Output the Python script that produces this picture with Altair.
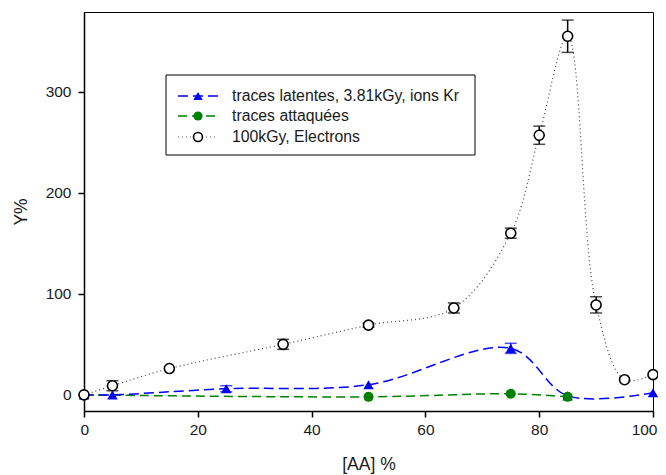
import altair as alt
import pandas as pd

# ---- data ----
elec_x = [0, 5, 15, 35, 50, 65, 75, 80, 85, 90, 95, 100]
elec_y = [0, 9, 26, 50, 69, 86, 160, 257, 355, 89, 15, 20]
elec_err = [0, 5, 0, 5, 2, 5, 5, 9, 16, 8, 0, 0]

kr_x = [0, 5, 25, 50, 75, 85, 100]
kr_y = [0, 0, 6, 10, 46, -1, 2]
kr_err = [0, 0, 3, 0, 5, 0, 0]

att_x = [0, 50, 75, 85]
att_y = [0, -2, 1, -2]

legend_labels = ["traces latentes, 3.81kGy, ions Kr", "traces attaquées", "100kGy, Electrons"]
x_ticks = [0, 20, 40, 60, 80, 100]
y_ticks = [0, 100, 200, 300]

FONT = "Liberation Sans"
BLUE = "#0000ff"
GREEN = "#008000"
BLACK = "#000000"
TXT = "#1a1a1a"

elec = pd.DataFrame({"x": elec_x, "y": elec_y, "err": elec_err})
kr = pd.DataFrame({"x": kr_x, "y": kr_y, "err": kr_err})
att = pd.DataFrame({"x": att_x, "y": att_y})

elec_e = elec[elec.err > 0].assign(lo=lambda d: d.y - d.err, hi=lambda d: d.y + d.err)
kr_e = kr[kr.err > 0].assign(lo=lambda d: d.y - d.err, hi=lambda d: d.y + d.err)

xs = alt.Scale(domain=[0, 100], nice=False, zero=False)
ys = alt.Scale(domain=[-16, 379], nice=False, zero=False)

X = alt.X("x:Q", scale=xs, title="[AA] %",
          axis=alt.Axis(values=x_ticks, titlePadding=18, labelPadding=5,
                        labelFlush=True, labelFlushOffset=4))
Y = alt.Y("y:Q", scale=ys, title="Y%",
          axis=alt.Axis(values=y_ticks, titlePadding=15, labelPadding=7, labelFlush=False))

interp = "catmull-rom"

att_line = alt.Chart(att).mark_line(color=GREEN, strokeWidth=1.5, strokeDash=[9, 5],
                                    interpolate=interp).encode(x=X, y=Y)
kr_line = alt.Chart(kr).mark_line(color=BLUE, strokeWidth=1.5, strokeDash=[10, 5],
                                  interpolate=interp).encode(x=X, y=Y)
elec_line = alt.Chart(elec).mark_line(color="#444444", strokeWidth=1.2, strokeDash=[1, 3],
                                      interpolate=interp).encode(x=X, y=Y)


def errbars(df, color):
    rule = alt.Chart(df).mark_rule(color=color, strokeWidth=1.5).encode(
        x=alt.X("x:Q", scale=xs), y=alt.Y("lo:Q", scale=ys), y2="hi:Q")
    lo = alt.Chart(df).mark_tick(color=color, orient="horizontal", size=12, thickness=1.5).encode(
        x=alt.X("x:Q", scale=xs), y=alt.Y("lo:Q", scale=ys))
    hi = alt.Chart(df).mark_tick(color=color, orient="horizontal", size=12, thickness=1.5).encode(
        x=alt.X("x:Q", scale=xs), y=alt.Y("hi:Q", scale=ys))
    return rule + lo + hi


att_pts = alt.Chart(att[att.x > 0]).mark_point(shape="circle", filled=True, color=GREEN,
                                               size=100, opacity=1).encode(x=X, y=Y)
kr_pts = alt.Chart(kr).mark_point(shape="triangle-up", filled=True, color=BLUE,
                                  size=110, opacity=1).encode(x=X, y=Y)
elec_pts = alt.Chart(elec).mark_point(shape="circle", filled=True, fill="white", stroke=BLACK,
                                      strokeWidth=1.6, size=100, opacity=1).encode(x=X, y=Y)

# ---- legend (drawn as a boxed key) ----
one = pd.DataFrame({"k": [0]})
box = alt.Chart(one).mark_rect(fill="white", stroke=BLACK, strokeWidth=1).encode(
    x=alt.value(82), x2=alt.value(391), y=alt.value(63), y2=alt.value(143))
rows_y = [84, 104, 125]
styles = [(BLUE, [10, 5], 1.5), (GREEN, [9, 5], 1.5), ("#444444", [1, 3], 1.2)]
leg = box
for i, (lab, yy, (col, dash, sw)) in enumerate(zip(legend_labels, rows_y, styles)):
    leg += alt.Chart(one).mark_rule(color=col, strokeDash=dash, strokeWidth=sw).encode(
        x=alt.value(94), x2=alt.value(134), y=alt.value(yy))
    if i == 0:
        sym = alt.Chart(one).mark_point(shape="triangle-up", filled=True, color=BLUE, size=90, opacity=1)
    elif i == 1:
        sym = alt.Chart(one).mark_point(shape="circle", filled=True, color=GREEN, size=85, opacity=1)
    else:
        sym = alt.Chart(one).mark_point(shape="circle", filled=True, fill="white", stroke=BLACK,
                                        strokeWidth=1.6, size=80, opacity=1)
    leg += sym.encode(x=alt.value(114), y=alt.value(yy))
    leg += alt.Chart(one).mark_text(align="left", baseline="middle", font=FONT, fontSize=15.8,
                                    color=TXT).encode(
        x=alt.value(148), y=alt.value(yy), text=alt.value(lab))

chart = alt.layer(
    att_line, kr_line, elec_line,
    errbars(elec_e, BLACK), errbars(kr_e, BLUE),
    kr_pts, att_pts, elec_pts,
    leg,
).properties(
    width=569, height=399,
    autosize=alt.AutoSizeParams(type="none"),
    padding={"left": 76, "top": 4, "right": 5, "bottom": 64},
).configure_view(
    stroke=BLACK, strokeWidth=1
).configure_axis(
    grid=False, domainColor=BLACK, tickColor=BLACK, labelColor=TXT, titleColor=TXT,
    labelFont=FONT, titleFont=FONT, labelFontSize=15.5, titleFontSize=17.5,
    titleFontWeight="normal", tickSize=6, domainWidth=1.5, tickWidth=1.5
)

chart.save("out.html", embed_options={"renderer": "svg", "actions": False})
